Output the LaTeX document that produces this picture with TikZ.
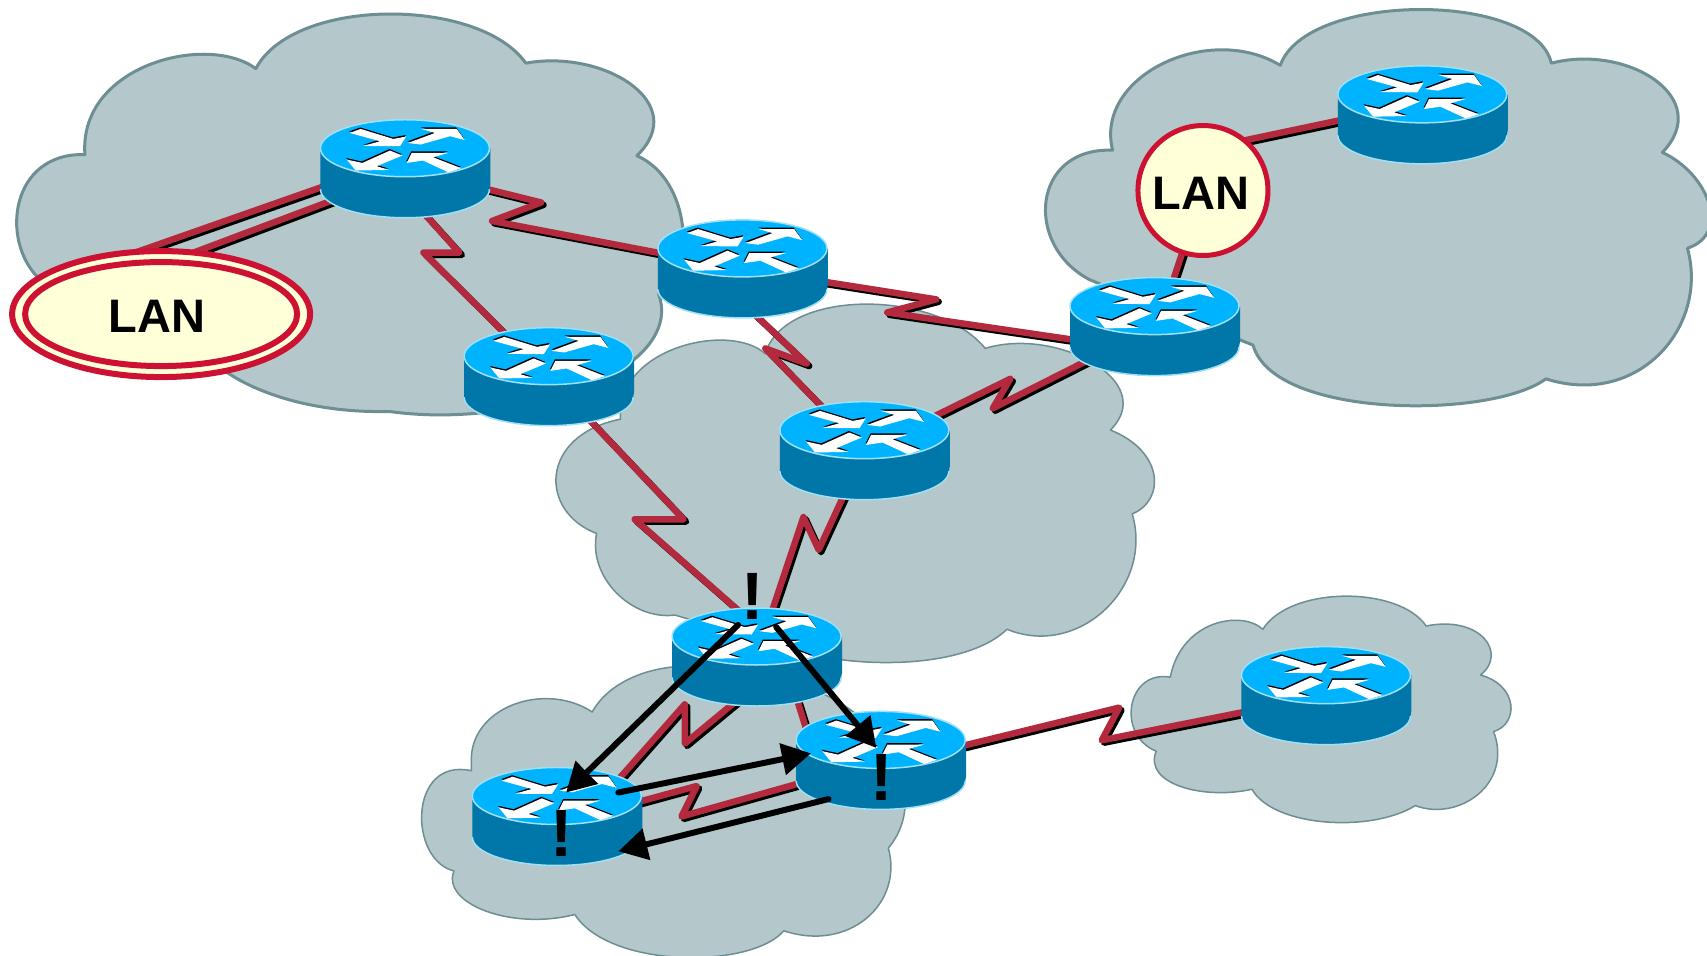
\documentclass[tikz,border=0pt]{standalone}
\usepackage{fontspec}
\setmainfont{Liberation Sans}
\usetikzlibrary{arrows.meta,shapes.geometric}
\pgfdeclarelayer{cloudlayer}
\pgfdeclarelayer{linklayer}
\pgfsetlayers{cloudlayer,linklayer,main}
\definecolor{cloudfill}{HTML}{B4C7CA}
\definecolor{cloudedge}{HTML}{6D8E92}
\definecolor{linkred}{HTML}{B32A3E}
\definecolor{lanred}{HTML}{CC1133}
\definecolor{lanfill}{HTML}{FFFFD8}
\definecolor{rtop}{HTML}{00B3FF}
\definecolor{rbody}{HTML}{0077A8}
\definecolor{redge}{HTML}{9FE0F5}
\newcommand{\arrowpolys}{%
  (-55.3,35.8)--(-44.3,39.8)--(-11.7,29.8)--(1.3,32.2)--(-5,22.5)--(-41.7,22.8)--(-25,27.5)--cycle
  (3,25.8)--(30,35.8)--(16.3,39.8)--(51.7,39.8)--(59.7,28.8)--(45,32.5)--(15.7,24.2)--cycle
  (-15,18.2)--(-2.7,13.2)--(-28.3,2.5)--(-16,-1.2)--(-49.3,-1.8)--(-58.3,9.2)--(-42.7,5.8)--cycle
  (1.7,5.8)--(6.7,15.8)--(43.3,15.8)--(28,11.5)--(56.3,0.5)--(43.3,-3.5)--(18,8.2)--cycle}
\newcommand{\arrowshadows}{%
  (-55.8,37.3)--(-44.8,41.3)--(-12.2,31.3)--(0.8,33.7)--(-5,25)--(-41.7,24)--(-25.5,29)--cycle
  (2.5,27.3)--(29.5,37.3)--(15.8,41.3)--(51.2,41.3)--(59.2,30)--(45,33)--(15.7,25.5)--cycle
  (-15.5,19.7)--(-3.2,14.7)--(-28.8,4)--(-16,0)--(-49.3,0)--(-58.8,10.7)--(-43.2,7.3)--cycle
  (1.2,7.3)--(6.2,17.3)--(42.8,17.3)--(27.5,13)--(55.8,2)--(43.3,-2)--(17.5,9.7)--cycle}
\tikzset{
  cloudbig/.style={fill=cloudfill,draw=cloudedge,line width=3pt,line join=round},
  cloudsmall/.style={fill=cloudfill,draw=cloudedge,line width=1.5pt,line join=round},
  linktop/.style={draw=linkred,line width=6.5pt,line join=round},
  linkback/.style={draw=black,line width=6.5pt,line join=round,transform canvas={shift={(2.4pt,-2.4pt)}}},
  router/.style={rectangle,inner sep=0pt,outer sep=0pt,minimum width=174pt,minimum height=102pt,
    path picture={
      \begin{scope}[shift={(path picture bounding box.center)},x=1pt,y=1pt]
        \fill[rbody] (-84.5,20.5) -- (-84.5,-20.5) arc[start angle=180,end angle=360,x radius=84.5,y radius=28.5] -- (85.5,-15) -- (85.5,20.5) -- cycle;
        \draw[redge,line width=1.5pt] (-84.5,-20.5) arc[start angle=180,end angle=360,x radius=84.5,y radius=28.5];
        \fill[rtop,draw=redge,line width=1.5pt] (0,20.5) ellipse[x radius=84.5,y radius=28.5];
        \fill[black] \arrowshadows;
        \fill[white] \arrowpolys;
      \end{scope}
    }},
  lantext/.style={font=\bfseries\fontsize{47pt}{47pt}\selectfont,text=black,inner sep=0pt},
  bang/.style={font=\bfseries\fontsize{67pt}{67pt}\selectfont,text=black,inner sep=0pt},
  flow/.style={draw=black,line width=6pt,line cap=round,-{Triangle[length=29pt,width=31pt]}},
}
\newcommand{\linkpath}[1]{\draw[linkback] #1; \draw[linktop] #1;}
\begin{document}
\begin{tikzpicture}[x=1.08865pt,y=-1.08865pt]
\useasboundingbox (0,0) rectangle (1568,877.25);
% routers
\node[router] (r1) at (372,155) {};
\node[router] (r2) at (682,247) {};
\node[router] (r3) at (504,346) {};
\node[router] (r4) at (794,414) {};
\node[router] (r5) at (1060.5,300) {};
\node[router] (r6) at (1306.5,105.5) {};
\node[router] (r7) at (695,603.5) {};
\node[router] (r8) at (809,698.5) {};
\node[router] (r9) at (511.5,750) {};
\node[router] (r10) at (1218,639) {};
% LANs
\node[ellipse,draw=lanred,fill=lanfill,line width=6pt,minimum width=298pt,minimum height=126pt,inner sep=0pt] (lan1) at (148,288.5) {};
\node[ellipse,draw=lanred,fill=lanfill,line width=6pt,minimum width=272pt,minimum height=104pt,inner sep=0pt] (lan1in) at (148,288.5) {};
\node[lantext] (lan1t) at (144,291) {LAN};
\node[circle,draw=lanred,fill=lanfill,line width=5pt,minimum size=130pt,inner sep=0pt] (lan2) at (1105,175) {};
\node[lantext] (lan2t) at (1103,178) {LAN};
% links
\begin{pgfonlayer}{linklayer}
\linkpath{([shift={(0,-10)}]r1.center) -- ([shift={(-48,-48)}]lan1.center)}
\linkpath{([shift={(0,4)}]r1.center) -- ([shift={(2,-46)}]lan1.center)}
\linkpath{(r1.center) -- (497,186) -- (452,203) -- (r2.center)}
\linkpath{([shift={(-6,15)}]r1.center) -- (422,232) -- (389,232) -- (r3.center)}
\linkpath{([shift={(-19,13)}]r2.center) -- (741,334) -- (703,320) -- (r4.center)}
\linkpath{(r2.center) -- (860,275) -- (815,287) -- ([shift={(0,23)}]r5.center)}
\linkpath{(r4.center) -- (928,348) -- (912,375) -- (r5.center)}
\linkpath{(r3.center) -- (628,477) -- (583,477) -- ([shift={(0,-28)}]r7.center)}
\linkpath{(r4.center) -- (752,505) -- (738,475) -- (r7.center)}
\linkpath{([shift={(0,25)}]r7.center) -- (629,683) -- (629,647) -- ([shift={(0,30)}]r9.center)}
\linkpath{([shift={(33,26)}]r7.center) -- ([shift={(-59,1.5)}]r8.center)}
\linkpath{([shift={(0,7)}]r9.center) -- (640,722) -- (626,750) -- (r8.center)}
\linkpath{([shift={(0,5)}]r8.center) -- (1028,650) -- (1012,680) -- (r10.center)}
\linkpath{([shift={(0,-38)}]lan2.center) -- ([shift={(0,-11)}]r6.center)}
\linkpath{(lan2.center) -- ([shift={(3,0)}]r5.center)}
\end{pgfonlayer}
% clouds
\begin{pgfonlayer}{cloudlayer}
\draw[cloudbig] (78,142) .. controls (72,60) and (190,30) .. (235,63)
  .. controls (270,-3) and (440,-3) .. (483,58)
  .. controls (555,45) and (635,95) .. (585,143)
  .. controls (635,165) and (640,250) .. (605,270)
  .. controls (630,340) and (480,395) .. (358,378)
  .. controls (270,380) and (215,350) .. (200,335)
  -- (35,255) .. controls (0,220) and (10,140) .. (78,142) -- cycle;
\draw[cloudbig] (1022,138) .. controls (1005,70) and (1110,20) .. (1176,60)
  .. controls (1200,-8) and (1410,-8) .. (1425,58)
  .. controls (1495,40) and (1575,90) .. (1527,140)
  .. controls (1570,160) and (1590,215) .. (1550,228)
  .. controls (1570,300) and (1505,375) .. (1420,348)
  .. controls (1370,385) and (1170,385) .. (1151,317)
  -- (1001,257) .. controls (940,225) and (948,135) .. (1022,138) -- cycle;
\draw[cloudsmall] (703,325) .. controls (720,265) and (860,265) .. (905,320)
  .. controls (970,300) and (1065,350) .. (1020,395)
  .. controls (1070,415) and (1070,460) .. (1040,472)
  .. controls (1060,540) and (990,605) .. (925,578)
  .. controls (890,612) and (800,615) .. (740,600)
  -- (620,565) .. controls (580,570) and (540,530) .. (548,490)
  .. controls (495,470) and (495,400) .. (570,385)
  .. controls (565,320) and (670,295) .. (703,325) -- cycle;
\draw[cloudsmall] (433,701) .. controls (430,650) and (500,625) .. (544,654)
  .. controls (560,625) and (600,610) .. (640,612)
  -- (700,625) .. controls (790,625) and (865,720) .. (816,779)
  .. controls (830,830) and (780,875) .. (720,855)
  .. controls (690,890) and (560,890) .. (528,840)
  .. controls (470,855) and (405,830) .. (417,800)
  .. controls (375,790) and (375,695) .. (433,708) -- cycle;
\draw[cloudsmall] (1075,622) .. controls (1085,570) and (1140,560) .. (1160,578)
  .. controls (1185,538) and (1285,538) .. (1310,575)
  .. controls (1360,565) and (1385,600) .. (1360,620)
  .. controls (1395,630) and (1395,665) .. (1372,672)
  .. controls (1390,720) and (1340,755) .. (1300,740)
  .. controls (1260,765) and (1170,760) .. (1150,725)
  .. controls (1105,735) and (1050,720) .. (1062,690)
  .. controls (1025,675) and (1035,615) .. (1075,622) -- cycle;
\end{pgfonlayer}
% flows
\draw[flow] ([shift={(-17,-29.5)}]r7.center) -- ([shift={(8.5,-22)}]r9.center);
\draw[flow] ([shift={(18,-27.5)}]r7.center) -- ([shift={(-4,-11.5)}]r8.center);
\draw[flow] ([shift={(56.5,-22)}]r9.center) -- ([shift={(-64,-6.5)}]r8.center);
\draw[flow] ([shift={(-48,35.5)}]r8.center) -- ([shift={(56.5,32)}]r9.center);
% exclamation marks
\node[bang] (b7) at (691,548) {!};
\node[bang] (b8) at (810,714) {!};
\node[bang] (b9) at (515.5,766) {!};
\end{tikzpicture}
\end{document}
